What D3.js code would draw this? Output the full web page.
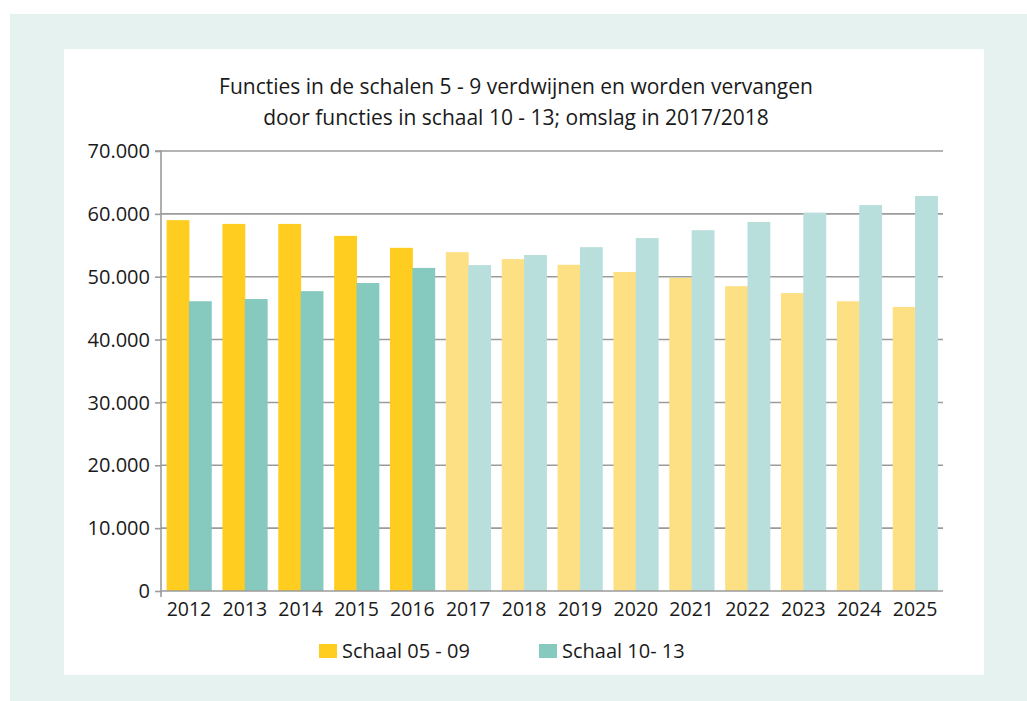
<!DOCTYPE html>
<html>
<head>
<meta charset="utf-8">
<script src="https://cdn.jsdelivr.net/npm/d3@7"></script>
<style>
  body { margin: 0; background: #fff; }
  svg { display: block; font-family: "Open Sans", sans-serif; }
</style>
</head>
<body>
<svg id="chart"></svg>
<script>
// Data
const years = ["2012", "2013", "2014", "2015", "2016", "2017", "2018", "2019", "2020", "2021", "2022", "2023", "2024", "2025"];
const schaal0509 = [59000, 58400, 58400, 56500, 54600, 53900, 52800, 51900, 50750, 49800, 48500, 47400, 46100, 45200];
const schaal1013 = [46100, 46450, 47700, 49000, 51400, 51850, 53450, 54700, 56150, 57400, 58700, 60200, 61400, 62850];
const yTicks = [0, 10000, 20000, 30000, 40000, 50000, 60000, 70000];
const seriesNames = ["Schaal 05 - 09", "Schaal 10- 13"];
const lastRealized = "2016";
const titleLines = [
  "Functies in de schalen 5 - 9 verdwijnen en worden vervangen",
  "door functies in schaal 10 - 13; omslag in 2017/2018"
];

const svgWidth = 1027, svgHeight = 701;
const plot = { left: 161, right: 943, top: 151, bottom: 591 };
const fontFamily = "'Open Sans', sans-serif";

const svg = d3.select("#chart")
    .attr("width", svgWidth)
    .attr("height", svgHeight);

// Background frame
svg.append("rect")
    .attr("x", 10).attr("y", 14)
    .attr("width", svgWidth - 10).attr("height", svgHeight - 14)
    .attr("fill", "#e6f2ef");
svg.append("rect")
    .attr("x", 64).attr("y", 49)
    .attr("width", 920).attr("height", 626)
    .attr("fill", "#fff");

// Scales
const x = d3.scaleBand()
    .domain(years)
    .range([plot.left, plot.right])
    .paddingInner(0.2)
    .paddingOuter(0.1);

const xSeries = d3.scaleBand()
    .domain([0, 1])
    .range([0, x.bandwidth()]);

const y = d3.scaleLinear()
    .domain([0, 70000])
    .range([plot.bottom, plot.top]);

const fmt = d3.formatLocale({ decimal: ",", thousands: ".", grouping: [3], currency: ["€", ""] }).format(",d");

// Gridlines
svg.append("g")
    .selectAll("line")
    .data(yTicks.filter(d => d > 0))
    .join("line")
    .attr("x1", plot.left)
    .attr("x2", plot.right)
    .attr("y1", d => y(d))
    .attr("y2", d => y(d))
    .attr("stroke", "#9b9b9b")
    .attr("stroke-width", 1.6);

// Bars
const colors = [
  { dark: "#fecd1f", light: "#fde084" },
  { dark: "#86c9bf", light: "#b8dfdb" }
];
const series = [schaal0509, schaal1013];
const groups = svg.append("g")
    .selectAll("g")
    .data(years)
    .join("g")
    .attr("transform", d => `translate(${x(d)},0)`);

groups.selectAll("rect")
    .data((yr, i) => series.map((s, k) => ({ yr, k, value: s[i] })))
    .join("rect")
    .attr("x", d => xSeries(d.k))
    .attr("width", xSeries.bandwidth() + 0.5)
    .attr("y", d => y(d.value))
    .attr("height", d => y(0) - y(d.value))
    .attr("fill", d => +d.yr <= +lastRealized ? colors[d.k].dark : colors[d.k].light);

// Y axis
const yAxis = svg.append("g")
    .attr("transform", `translate(${plot.left},0)`)
    .call(d3.axisLeft(y).tickValues(yTicks).tickFormat(fmt).tickSize(6).tickPadding(5))
    .attr("font-family", fontFamily);
yAxis.select(".domain").attr("stroke", "#9b9b9b").attr("stroke-width", 1.6)
    .attr("d", `M-6,${plot.top}H0V${plot.bottom + 6}`);
yAxis.selectAll(".tick line").attr("stroke", "#9b9b9b").attr("stroke-width", 1.6);
yAxis.selectAll(".tick text")
    .attr("font-size", 20)
    .attr("fill", "#1a1a1a")
    .attr("dy", "0.33em");

// X axis
const xAxis = svg.append("g")
    .attr("transform", `translate(0,${plot.bottom})`)
    .call(d3.axisBottom(x).tickSize(0).tickPadding(11))
    .attr("font-family", fontFamily);
xAxis.select(".domain").attr("stroke", "#9b9b9b").attr("stroke-width", 1.6)
    .attr("d", `M${plot.left},0H${plot.right}`);
xAxis.selectAll(".tick text")
    .attr("font-size", 19.5)
    .attr("fill", "#1a1a1a");

// Title
svg.append("text")
    .attr("x", 516)
    .attr("y", 94)
    .attr("text-anchor", "middle")
    .attr("font-size", 21)
    .attr("fill", "#1a1a1a")
    .selectAll("tspan")
    .data(titleLines)
    .join("tspan")
    .attr("x", 516)
    .attr("dy", (d, i) => i === 0 ? 0 : 31)
    .text(d => d);

// Legend
const legendX = [319, 539];
const legend = svg.append("g")
    .selectAll("g")
    .data(seriesNames)
    .join("g")
    .attr("transform", (d, i) => `translate(${legendX[i]},644)`);
legend.append("rect")
    .attr("width", 18)
    .attr("height", 14)
    .attr("fill", (d, i) => colors[i].dark);
legend.append("text")
    .attr("x", 23)
    .attr("y", 14)
    .attr("font-size", 20)
    .attr("fill", "#1a1a1a")
    .text(d => d);
</script>
</body>
</html>
